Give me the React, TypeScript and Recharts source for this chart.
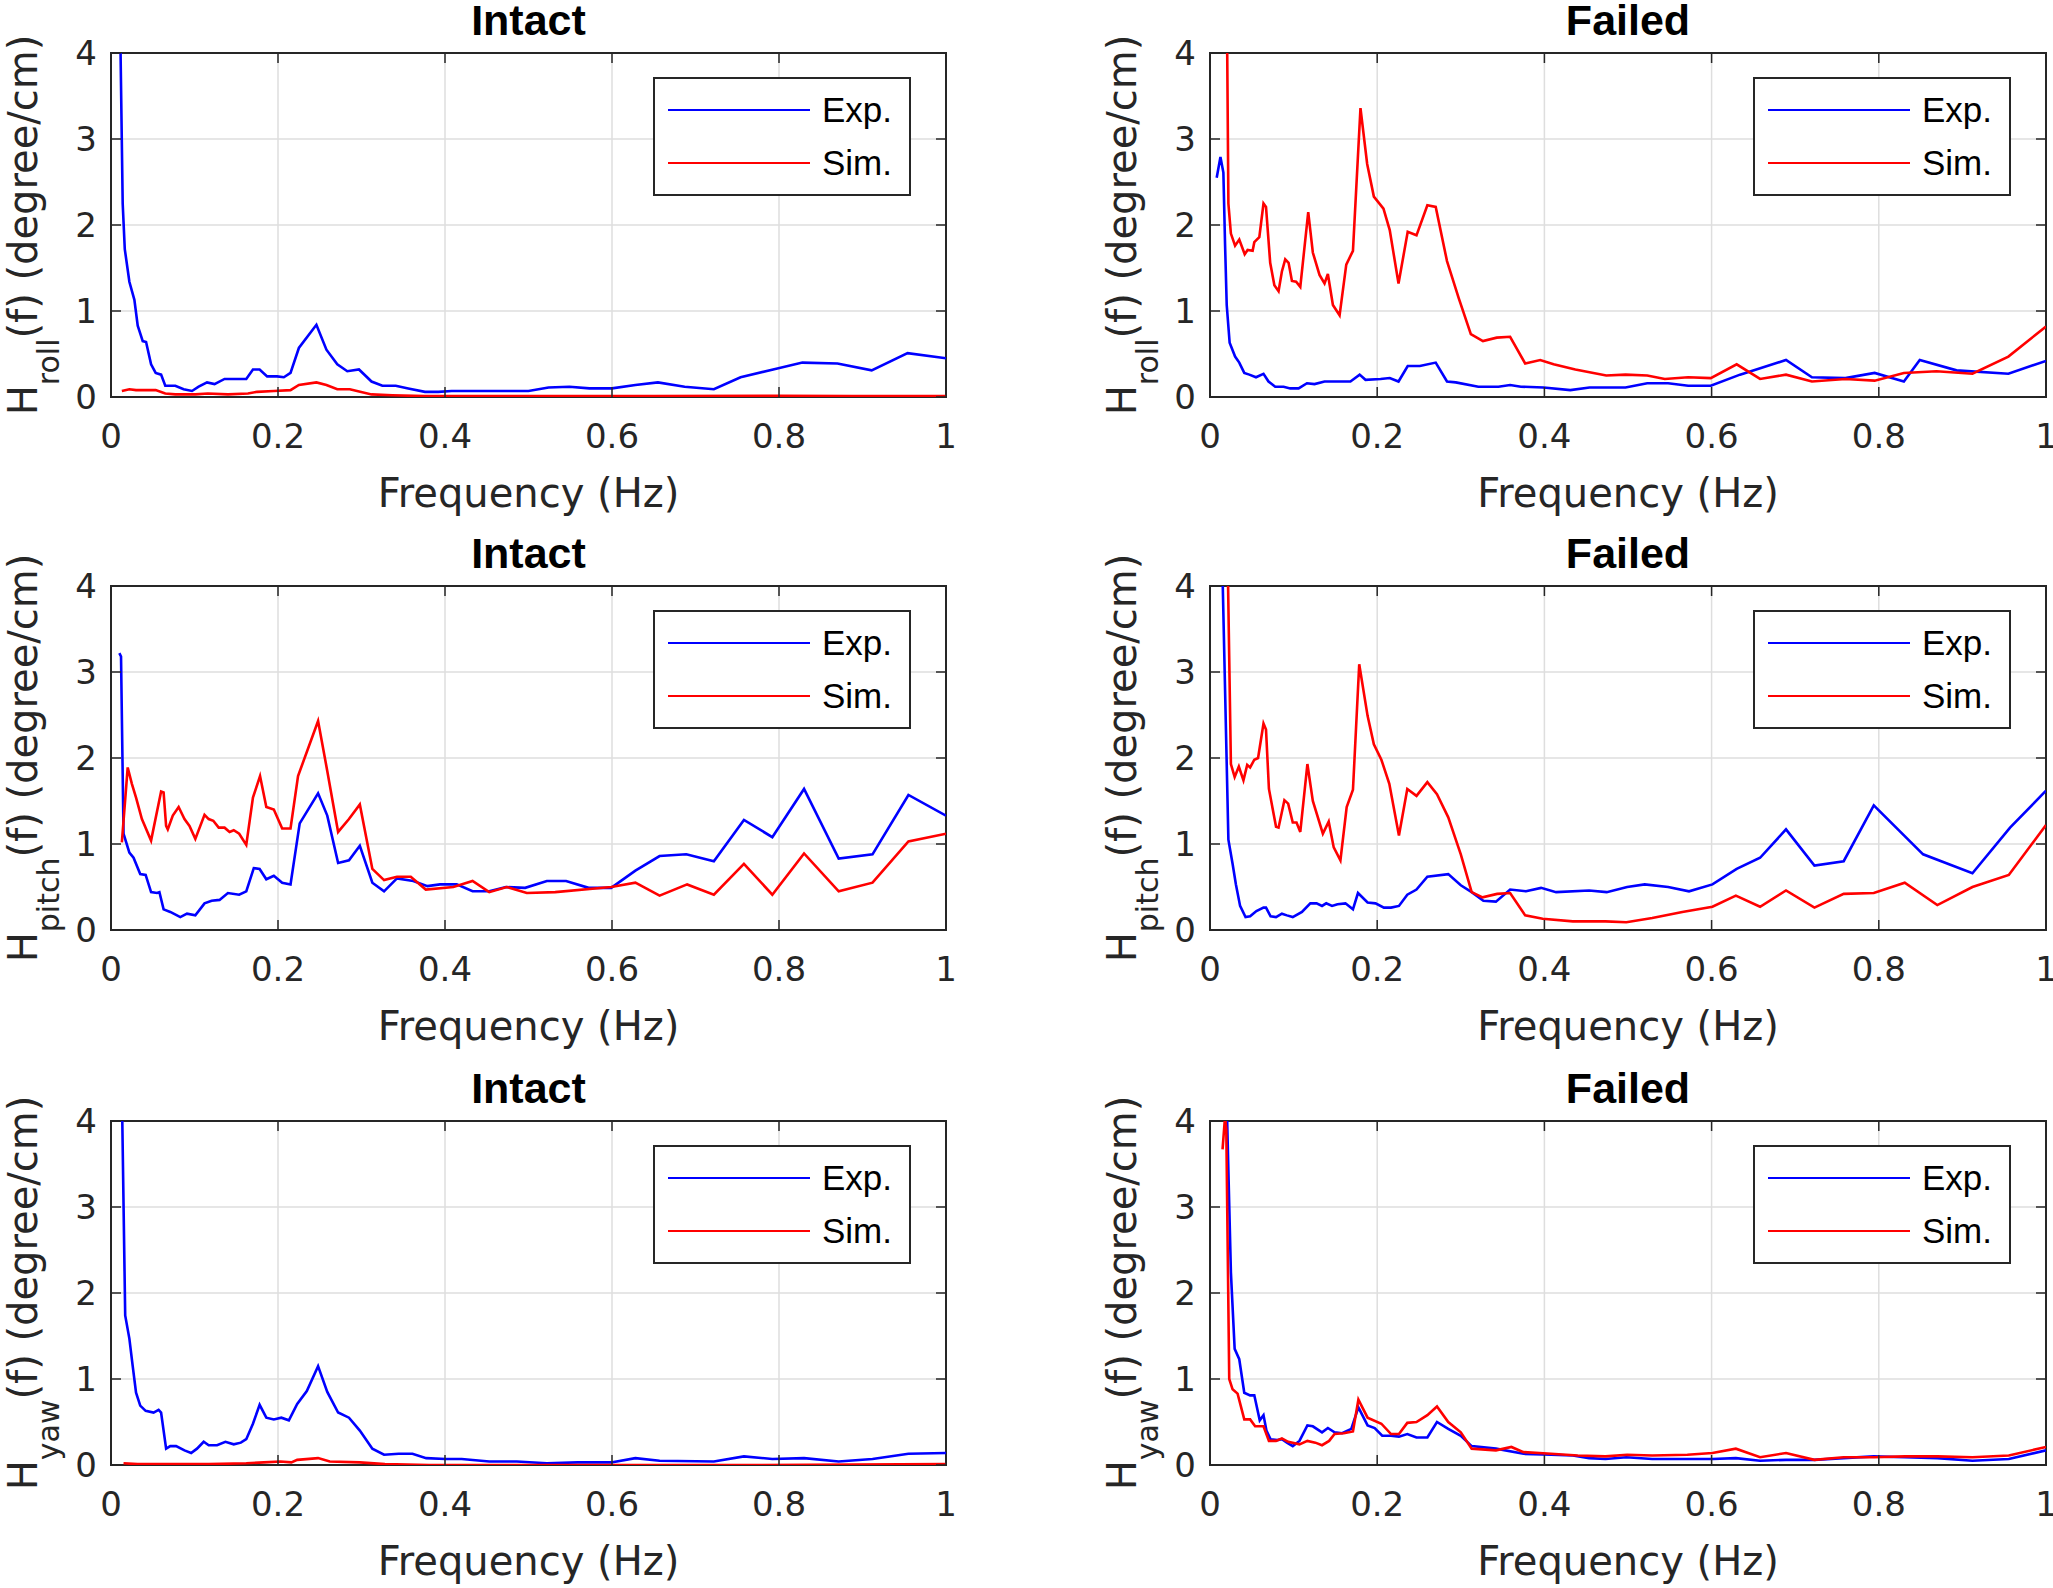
import React from 'react';
import { LineChart, Line, XAxis, YAxis, CartesianGrid, ReferenceArea, Legend, Customized } from 'recharts';

// ---------- data: [frequency (Hz), magnitude (degree/cm)] ----------
const rollIntactExp: [number, number][] = [
  [0.010, 5.0], [0.014, 2.25], [0.0165, 1.72], [0.022, 1.34], [0.028, 1.13], [0.032, 0.83], [0.038, 0.65], [0.042, 0.64],
  [0.048, 0.38], [0.0535, 0.28], [0.060, 0.26], [0.065, 0.13], [0.077, 0.13], [0.087, 0.09], [0.097, 0.07], [0.105, 0.12],
  [0.115, 0.17], [0.124, 0.15], [0.136, 0.21], [0.152, 0.21], [0.162, 0.21], [0.170, 0.32], [0.178, 0.32], [0.187, 0.24],
  [0.199, 0.24], [0.207, 0.23], [0.215, 0.28], [0.225, 0.57], [0.246, 0.84], [0.258, 0.55], [0.271, 0.38], [0.283, 0.30],
  [0.297, 0.32], [0.312, 0.18], [0.325, 0.13], [0.341, 0.13], [0.356, 0.10], [0.376, 0.06], [0.392, 0.06], [0.408, 0.07],
  [0.423, 0.07], [0.463, 0.07], [0.500, 0.07], [0.524, 0.11], [0.549, 0.12], [0.573, 0.10], [0.600, 0.10], [0.628, 0.14],
  [0.655, 0.17], [0.687, 0.12], [0.722, 0.09], [0.754, 0.23], [0.793, 0.32], [0.828, 0.40], [0.870, 0.39], [0.911, 0.31],
  [0.954, 0.51], [1.0, 0.45],
];
const rollIntactSim: [number, number][] = [
  [0.013, 0.07], [0.022, 0.09], [0.030, 0.08], [0.0535, 0.08], [0.065, 0.04], [0.077, 0.03], [0.101, 0.03], [0.116, 0.04],
  [0.140, 0.03], [0.164, 0.04], [0.175, 0.06], [0.195, 0.07], [0.215, 0.08], [0.225, 0.14], [0.246, 0.17], [0.258, 0.14],
  [0.271, 0.09], [0.286, 0.09], [0.312, 0.03], [0.337, 0.02], [0.376, 0.01], [0.494, 0.01], [0.651, 0.01], [0.801, 0.015],
  [0.887, 0.01], [1.0, 0.01],
];
const rollFailedExp: [number, number][] = [
  [0.008, 2.55], [0.0125, 2.79], [0.016, 2.61], [0.018, 1.78], [0.020, 1.07], [0.0235, 0.63], [0.030, 0.47], [0.035, 0.40],
  [0.041, 0.28], [0.047, 0.26], [0.055, 0.23], [0.064, 0.27], [0.070, 0.18], [0.078, 0.12], [0.088, 0.12], [0.096, 0.10],
  [0.106, 0.10], [0.116, 0.16], [0.125, 0.15], [0.137, 0.18], [0.149, 0.18], [0.168, 0.18], [0.179, 0.26], [0.186, 0.20],
  [0.204, 0.21], [0.215, 0.22], [0.2255, 0.18], [0.2365, 0.36], [0.251, 0.36], [0.270, 0.40], [0.2835, 0.18], [0.294, 0.17],
  [0.321, 0.12], [0.345, 0.12], [0.359, 0.14], [0.372, 0.12], [0.399, 0.11], [0.431, 0.08], [0.454, 0.11], [0.497, 0.11],
  [0.523, 0.16], [0.548, 0.16], [0.572, 0.13], [0.599, 0.13], [0.634, 0.26], [0.689, 0.43], [0.720, 0.23], [0.760, 0.22],
  [0.795, 0.28], [0.830, 0.18], [0.849, 0.43], [0.893, 0.31], [0.955, 0.27], [1.0, 0.42],
];
const rollFailedSim: [number, number][] = [
  [0.019, 6.0], [0.022, 2.25], [0.025, 1.90], [0.030, 1.76], [0.035, 1.83], [0.0415, 1.66], [0.045, 1.71], [0.051, 1.70],
  [0.053, 1.80], [0.059, 1.86], [0.064, 2.25], [0.067, 2.21], [0.072, 1.56], [0.077, 1.30], [0.082, 1.23], [0.086, 1.46],
  [0.090, 1.60], [0.094, 1.56], [0.098, 1.35], [0.103, 1.34], [0.108, 1.28], [0.1175, 2.15], [0.123, 1.68], [0.131, 1.42],
  [0.137, 1.32], [0.141, 1.43], [0.147, 1.07], [0.155, 0.95], [0.163, 1.54], [0.171, 1.70], [0.180, 3.36], [0.188, 2.71],
  [0.196, 2.33], [0.2075, 2.19], [0.215, 1.94], [0.2255, 1.32], [0.2365, 1.92], [0.247, 1.88], [0.260, 2.23], [0.270, 2.21],
  [0.2835, 1.58], [0.2975, 1.15], [0.312, 0.73], [0.3265, 0.65], [0.343, 0.69], [0.359, 0.70], [0.377, 0.39], [0.395, 0.43],
  [0.411, 0.38], [0.437, 0.32], [0.474, 0.25], [0.497, 0.26], [0.523, 0.25], [0.544, 0.21], [0.572, 0.23], [0.599, 0.22],
  [0.630, 0.38], [0.658, 0.21], [0.689, 0.26], [0.720, 0.18], [0.760, 0.21], [0.795, 0.19], [0.830, 0.28], [0.869, 0.30],
  [0.912, 0.27], [0.955, 0.47], [1.0, 0.82],
];
const pitchIntactExp: [number, number][] = [
  [0.010, 3.22], [0.012, 3.18], [0.015, 1.12], [0.022, 0.90], [0.027, 0.84], [0.035, 0.65], [0.0415, 0.64], [0.048, 0.44],
  [0.055, 0.43], [0.058, 0.44], [0.063, 0.24], [0.071, 0.21], [0.083, 0.15], [0.091, 0.19], [0.101, 0.17], [0.112, 0.31],
  [0.1205, 0.34], [0.130, 0.35], [0.140, 0.43], [0.1535, 0.41], [0.162, 0.45], [0.171, 0.72], [0.178, 0.71], [0.186, 0.59],
  [0.195, 0.63], [0.205, 0.55], [0.215, 0.53], [0.226, 1.24], [0.248, 1.59], [0.259, 1.33], [0.272, 0.78], [0.285, 0.81],
  [0.298, 0.98], [0.313, 0.55], [0.327, 0.45], [0.3425, 0.60], [0.362, 0.57], [0.379, 0.51], [0.394, 0.53], [0.414, 0.53],
  [0.433, 0.45], [0.453, 0.45], [0.473, 0.50], [0.496, 0.49], [0.522, 0.57], [0.545, 0.57], [0.572, 0.49], [0.599, 0.49],
  [0.628, 0.69], [0.657, 0.86], [0.689, 0.88], [0.722, 0.80], [0.758, 1.28], [0.792, 1.08], [0.830, 1.64], [0.8715, 0.83],
  [0.912, 0.88], [0.955, 1.57], [1.0, 1.33],
];
const pitchIntactSim: [number, number][] = [
  [0.013, 1.02], [0.020, 1.89], [0.025, 1.70], [0.030, 1.54], [0.037, 1.29], [0.048, 1.04], [0.060, 1.61], [0.063, 1.60],
  [0.066, 1.21], [0.068, 1.17], [0.074, 1.33], [0.081, 1.43], [0.088, 1.29], [0.094, 1.21], [0.101, 1.06], [0.112, 1.34],
  [0.117, 1.29], [0.1225, 1.27], [0.129, 1.19], [0.136, 1.19], [0.142, 1.14], [0.147, 1.16], [0.1535, 1.12], [0.162, 0.99],
  [0.170, 1.54], [0.1785, 1.79], [0.186, 1.43], [0.195, 1.40], [0.205, 1.18], [0.215, 1.18], [0.224, 1.79], [0.248, 2.43],
  [0.259, 1.85], [0.272, 1.14], [0.285, 1.29], [0.298, 1.46], [0.313, 0.71], [0.327, 0.58], [0.3425, 0.62], [0.359, 0.62],
  [0.377, 0.47], [0.410, 0.50], [0.433, 0.57], [0.453, 0.44], [0.474, 0.50], [0.498, 0.43], [0.532, 0.44], [0.599, 0.50],
  [0.628, 0.55], [0.657, 0.40], [0.690, 0.53], [0.722, 0.41], [0.758, 0.77], [0.792, 0.41], [0.830, 0.89], [0.8715, 0.45],
  [0.912, 0.55], [0.955, 1.03], [1.0, 1.12],
];
const pitchFailedExp: [number, number][] = [
  [0.013, 5.0], [0.022, 1.05], [0.027, 0.77], [0.031, 0.53], [0.036, 0.28], [0.0425, 0.15], [0.048, 0.16], [0.0555, 0.22],
  [0.064, 0.26], [0.067, 0.26], [0.0725, 0.16], [0.079, 0.15], [0.086, 0.19], [0.092, 0.17], [0.099, 0.15], [0.110, 0.21],
  [0.120, 0.31], [0.1275, 0.31], [0.134, 0.28], [0.139, 0.31], [0.146, 0.28], [0.1525, 0.30], [0.162, 0.31], [0.171, 0.24],
  [0.177, 0.43], [0.1885, 0.32], [0.198, 0.31], [0.208, 0.26], [0.2165, 0.26], [0.226, 0.28], [0.236, 0.41], [0.247, 0.47],
  [0.260, 0.62], [0.285, 0.65], [0.300, 0.52], [0.313, 0.44], [0.327, 0.34], [0.342, 0.33], [0.359, 0.47], [0.378, 0.45],
  [0.396, 0.49], [0.414, 0.44], [0.4535, 0.46], [0.4745, 0.44], [0.499, 0.50], [0.520, 0.53], [0.548, 0.50], [0.573, 0.45],
  [0.601, 0.53], [0.630, 0.71], [0.658, 0.84], [0.689, 1.17], [0.723, 0.75], [0.758, 0.80], [0.794, 1.45], [0.853, 0.88],
  [0.912, 0.66], [0.957, 1.19], [1.0, 1.62],
];
const pitchFailedSim: [number, number][] = [
  [0.020, 5.0], [0.025, 1.93], [0.0295, 1.78], [0.0345, 1.90], [0.040, 1.74], [0.0445, 1.92], [0.048, 1.89], [0.053, 1.98],
  [0.0575, 2.0], [0.064, 2.40], [0.067, 2.33], [0.0705, 1.64], [0.079, 1.20], [0.082, 1.19], [0.089, 1.51], [0.0935, 1.47],
  [0.099, 1.25], [0.1035, 1.25], [0.108, 1.14], [0.1165, 1.93], [0.123, 1.50], [0.135, 1.12], [0.142, 1.26], [0.148, 0.96],
  [0.156, 0.81], [0.1635, 1.43], [0.171, 1.63], [0.1785, 3.09], [0.1885, 2.49], [0.196, 2.16], [0.205, 1.98], [0.2145, 1.70],
  [0.226, 1.10], [0.236, 1.64], [0.247, 1.56], [0.260, 1.72], [0.2715, 1.58], [0.285, 1.31], [0.300, 0.88], [0.313, 0.44],
  [0.326, 0.38], [0.3435, 0.42], [0.359, 0.43], [0.377, 0.17], [0.398, 0.13], [0.434, 0.10], [0.473, 0.10], [0.498, 0.09],
  [0.529, 0.14], [0.565, 0.21], [0.601, 0.27], [0.629, 0.40], [0.658, 0.27], [0.689, 0.46], [0.723, 0.26], [0.758, 0.42],
  [0.794, 0.43], [0.831, 0.55], [0.870, 0.29], [0.912, 0.50], [0.9555, 0.64], [1.0, 1.22],
];
const yawIntactExp: [number, number][] = [
  [0.012, 5.0], [0.017, 1.74], [0.022, 1.47], [0.026, 1.15], [0.030, 0.84], [0.035, 0.69], [0.0415, 0.63], [0.051, 0.61],
  [0.057, 0.64], [0.060, 0.61], [0.066, 0.19], [0.071, 0.22], [0.078, 0.22], [0.088, 0.17], [0.096, 0.14], [0.103, 0.19],
  [0.111, 0.27], [0.117, 0.23], [0.127, 0.23], [0.137, 0.27], [0.147, 0.24], [0.1555, 0.26], [0.162, 0.30], [0.170, 0.48],
  [0.178, 0.70], [0.186, 0.55], [0.195, 0.53], [0.204, 0.55], [0.213, 0.52], [0.223, 0.71], [0.2345, 0.86], [0.248, 1.15],
  [0.259, 0.85], [0.272, 0.61], [0.285, 0.55], [0.298, 0.40], [0.313, 0.19], [0.327, 0.12], [0.3445, 0.13], [0.361, 0.13],
  [0.3775, 0.08], [0.4005, 0.07], [0.420, 0.07], [0.453, 0.04], [0.486, 0.04], [0.522, 0.02], [0.559, 0.03], [0.599, 0.03],
  [0.628, 0.08], [0.657, 0.05], [0.722, 0.04], [0.758, 0.10], [0.792, 0.07], [0.830, 0.08], [0.8715, 0.04], [0.912, 0.07],
  [0.955, 0.13], [1.0, 0.14],
];
const yawIntactSim: [number, number][] = [
  [0.015, 0.02], [0.032, 0.01], [0.065, 0.01], [0.117, 0.01], [0.162, 0.02], [0.183, 0.03], [0.203, 0.04], [0.216, 0.03],
  [0.223, 0.06], [0.248, 0.08], [0.262, 0.04], [0.298, 0.03], [0.328, 0.01], [0.381, 0.0], [0.5125, 0.0], [0.644, 0.0],
  [0.776, 0.0], [1.0, 0.01],
];
const yawFailedExp: [number, number][] = [
  [0.019, 4.6], [0.025, 2.24], [0.0295, 1.35], [0.035, 1.23], [0.041, 0.84], [0.048, 0.81], [0.053, 0.81], [0.0595, 0.52],
  [0.064, 0.58], [0.0675, 0.40], [0.0725, 0.30], [0.0805, 0.29], [0.086, 0.30], [0.092, 0.26], [0.099, 0.22], [0.107, 0.28],
  [0.1165, 0.46], [0.123, 0.45], [0.134, 0.38], [0.141, 0.43], [0.149, 0.38], [0.158, 0.37], [0.169, 0.42], [0.1775, 0.67],
  [0.1885, 0.46], [0.197, 0.43], [0.206, 0.34], [0.2165, 0.34], [0.226, 0.33], [0.236, 0.36], [0.247, 0.32], [0.260, 0.32],
  [0.2715, 0.50], [0.285, 0.42], [0.300, 0.34], [0.313, 0.22], [0.342, 0.19], [0.375, 0.13], [0.408, 0.12], [0.434, 0.11],
  [0.4535, 0.08], [0.473, 0.07], [0.498, 0.09], [0.529, 0.07], [0.601, 0.07], [0.629, 0.08], [0.658, 0.05], [0.689, 0.06],
  [0.723, 0.06], [0.758, 0.08], [0.794, 0.10], [0.831, 0.09], [0.870, 0.08], [0.912, 0.05], [0.9555, 0.07], [1.0, 0.17],
];
const yawFailedSim: [number, number][] = [
  [0.015, 3.67], [0.018, 4.05], [0.0195, 3.9], [0.023, 1.0], [0.027, 0.88], [0.033, 0.83], [0.041, 0.53], [0.048, 0.53],
  [0.054, 0.45], [0.064, 0.45], [0.0705, 0.28], [0.079, 0.28], [0.086, 0.31], [0.0935, 0.27], [0.107, 0.24], [0.1165, 0.28],
  [0.126, 0.26], [0.134, 0.23], [0.1425, 0.28], [0.149, 0.36], [0.160, 0.37], [0.171, 0.39], [0.1775, 0.76], [0.1885, 0.55],
  [0.205, 0.48], [0.2165, 0.36], [0.226, 0.36], [0.236, 0.49], [0.247, 0.50], [0.260, 0.58], [0.2715, 0.68], [0.285, 0.50],
  [0.300, 0.38], [0.313, 0.19], [0.342, 0.17], [0.3605, 0.21], [0.375, 0.15], [0.408, 0.13], [0.440, 0.11], [0.473, 0.10],
  [0.499, 0.12], [0.529, 0.11], [0.571, 0.12], [0.601, 0.14], [0.629, 0.19], [0.658, 0.09], [0.689, 0.14], [0.723, 0.06],
  [0.758, 0.09], [0.794, 0.09], [0.831, 0.10], [0.870, 0.10], [0.912, 0.09], [0.9555, 0.11], [1.0, 0.21],
];

const X_TICKS = [0, 0.2, 0.4, 0.6, 0.8, 1];
const Y_TICKS = [0, 1, 2, 3, 4];
const SERIES_NAMES = ['Exp.', 'Sim.'];
const SERIES_COLORS = ['#0000ff', '#ff0000'];

// ---------- layout ----------
const AX_FONT = '"DejaVu Sans", sans-serif';
const TITLE_FONT = '"Liberation Sans", Arial, sans-serif';
const INK = '#262626';
const CHART_H = 520;
const PLOT_TOP = 53;
const PLOT_H = 344;
const X_AXIS_H = 30;
const Y_AXIS_W = 60;
const ROW_TOPS = [0, 533, 1068];
const COLS = [
  { left: 0, width: 1010, ml: 51, mr: 64 },
  { left: 1020, width: 1033, ml: 130, mr: 7 },
];

const toPts = (arr: [number, number][]) => arr.map(([f, v]) => ({ f, v }));
const fmt = (v: number) => String(Number(v.toFixed(2)));

function LegendBox({ payload }: any) {
  const rows = [33, 86];
  return (
    <div style={{ position: 'relative', width: 258, height: 119, boxSizing: 'border-box', border: `2px solid ${INK}`, background: '#fff' }}>
      {(payload || []).map((e: any, i: number) => (
        <React.Fragment key={i}>
          <div style={{ position: 'absolute', left: 13, top: rows[i] - 2 - 1.3, width: 142, height: 2.6, background: e.color }} />
          <div style={{ position: 'absolute', left: 167, top: rows[i] - 2 - 20, height: 40, lineHeight: '40px', fontFamily: TITLE_FONT, fontSize: 35, color: '#000', whiteSpace: 'nowrap' }}>
            {e.value}
          </div>
        </React.Fragment>
      ))}
    </div>
  );
}

function Panel({ title, sub, exp, sim, col, row }: any) {
  const g = COLS[col];
  const plotLeft = g.ml + Y_AXIS_W;
  const plotRight = g.width - g.mr;
  const plotTop = PLOT_TOP;
  const plotBottom = PLOT_TOP + PLOT_H;
  const cx = (plotLeft + plotRight) / 2;
  const cy = (plotTop + plotBottom) / 2;
  const series = [exp, sim];

  const XTick = (p: any) => (
    <g>
      <line x1={p.x} x2={p.x} y1={plotBottom} y2={plotBottom - 10} stroke={INK} strokeWidth={1.5} />
      <line x1={p.x} x2={p.x} y1={plotTop} y2={plotTop + 10} stroke={INK} strokeWidth={1.5} />
      <text x={p.x} y={plotBottom + 51} textAnchor="middle" fontFamily={AX_FONT} fontSize={34} fill={INK}>
        {fmt(p.payload.value)}
      </text>
    </g>
  );
  const YTick = (p: any) => (
    <g>
      <line x1={plotLeft} x2={plotLeft + 10} y1={p.y} y2={p.y} stroke={INK} strokeWidth={1.5} />
      <line x1={plotRight - 10} x2={plotRight} y1={p.y} y2={p.y} stroke={INK} strokeWidth={1.5} />
      <text x={plotLeft - 14} y={p.y} dy={12} textAnchor="end" fontFamily={AX_FONT} fontSize={34} fill={INK}>
        {fmt(p.payload.value)}
      </text>
    </g>
  );
  const Texts = () => (
    <g>
      <text x={cx} y={plotTop - 18} textAnchor="middle" fontFamily={TITLE_FONT} fontWeight="bold" fontSize={43} fill="#000">
        {title}
      </text>
      <text x={cx} y={plotBottom + 110} textAnchor="middle" fontFamily={AX_FONT} fontSize={40} fill={INK}>
        Frequency (Hz)
      </text>
      <text transform={`translate(${plotLeft - 74},${cy}) rotate(-90)`} textAnchor="middle" fontFamily={AX_FONT} fontSize={40} fill={INK}>
        H<tspan fontSize={30} dy={22}>{sub}</tspan>
        <tspan dy={-22}>(f) (degree/cm)</tspan>
      </text>
    </g>
  );

  return (
    <div style={{ position: 'absolute', left: g.left, top: ROW_TOPS[row], width: g.width, height: CHART_H }}>
      <LineChart width={g.width} height={CHART_H} margin={{ top: PLOT_TOP, right: g.mr, bottom: CHART_H - PLOT_TOP - PLOT_H - X_AXIS_H, left: g.ml }}>
        <CartesianGrid stroke="#dedede" strokeWidth={1.5} />
        <XAxis type="number" dataKey="f" domain={[0, 1]} ticks={X_TICKS} interval={0} height={X_AXIS_H}
          axisLine={false} tickLine={false} tick={XTick} allowDataOverflow />
        <YAxis type="number" domain={[0, 4]} ticks={Y_TICKS} interval={0} width={Y_AXIS_W}
          axisLine={false} tickLine={false} tick={YTick} allowDataOverflow />
        {series.map((s: any, i: number) => (
          <Line key={i} data={s} dataKey="v" name={SERIES_NAMES[i]} type="linear" stroke={SERIES_COLORS[i]}
            strokeWidth={2.6} dot={false} activeDot={false} isAnimationActive={false} />
        ))}
        <ReferenceArea x1={0} x2={1} y1={0} y2={4} fill="none" fillOpacity={0} stroke={INK} strokeWidth={2} ifOverflow="visible" />
        <Legend layout="horizontal" verticalAlign="middle" align="center"
          wrapperStyle={{ left: plotRight - 35 - 258, top: plotTop + 24, width: 258, height: 119, margin: 0, padding: 0 }}
          content={(props: any) => <LegendBox payload={props.payload} />} />
        <Customized component={<Texts />} />
      </LineChart>
    </div>
  );
}

const PANELS = [
  { title: 'Intact', sub: 'roll', exp: toPts(rollIntactExp), sim: toPts(rollIntactSim), col: 0, row: 0 },
  { title: 'Failed', sub: 'roll', exp: toPts(rollFailedExp), sim: toPts(rollFailedSim), col: 1, row: 0 },
  { title: 'Intact', sub: 'pitch', exp: toPts(pitchIntactExp), sim: toPts(pitchIntactSim), col: 0, row: 1 },
  { title: 'Failed', sub: 'pitch', exp: toPts(pitchFailedExp), sim: toPts(pitchFailedSim), col: 1, row: 1 },
  { title: 'Intact', sub: 'yaw', exp: toPts(yawIntactExp), sim: toPts(yawIntactSim), col: 0, row: 2 },
  { title: 'Failed', sub: 'yaw', exp: toPts(yawFailedExp), sim: toPts(yawFailedSim), col: 1, row: 2 },
];

export default function App() {
  return (
    <div style={{ position: 'relative', width: 2053, height: 1588, background: '#fff', overflow: 'hidden' }}>
      <style>{`body{margin:0;background:#fff}`}</style>
      {PANELS.map((p, i) => (
        <Panel key={i} {...p} />
      ))}
    </div>
  );
}
